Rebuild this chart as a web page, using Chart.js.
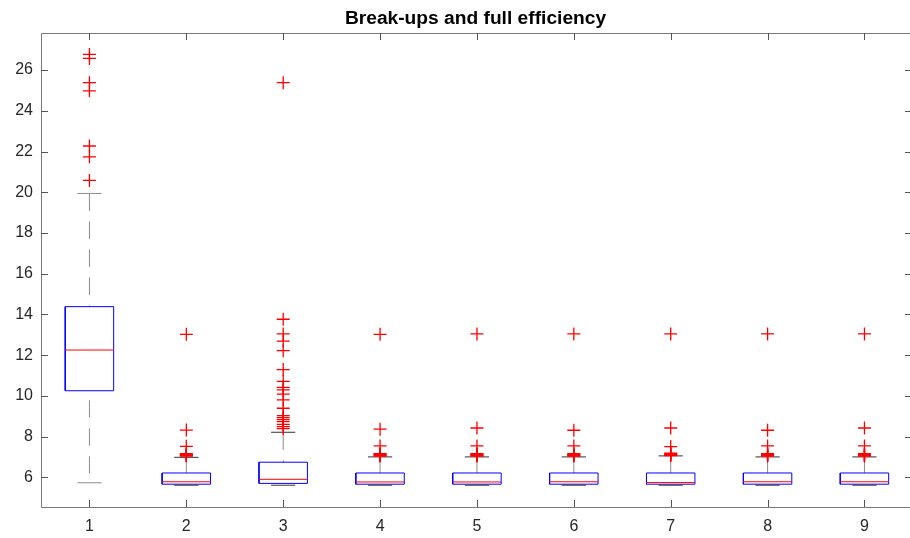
<!DOCTYPE html>
<html>
<head>
<meta charset="utf-8">
<title>Break-ups and full efficiency</title>
<script src="https://cdn.jsdelivr.net/npm/chart.js@4.4.0/dist/chart.umd.min.js"></script>
<style>
    html, body { margin: 0; padding: 0; background: #fff; }
    #wrap { width: 910px; height: 538px; }
</style>
</head>
<body>
<div id="wrap"><canvas id="boxChart"></canvas></div>
<script>
// Groups along the x axis
const categories = ['1', '2', '3', '4', '5', '6', '7', '8', '9'];

// Box statistics (one value per group)
const lowerWhisker  = [5.73, 5.61, 5.61, 5.61, 5.61, 5.61, 5.61, 5.61, 5.61];
const lowerQuartile = [10.25, 5.66, 5.70, 5.66, 5.66, 5.66, 5.66, 5.66, 5.66];
const medians       = [12.25, 5.78, 5.90, 5.77, 5.77, 5.78, 5.74, 5.78, 5.78];
const upperQuartile = [14.38, 6.21, 6.74, 6.21, 6.21, 6.21, 6.21, 6.21, 6.21];
const upperWhisker  = [19.94, 6.98, 8.21, 7.00, 7.00, 7.00, 7.05, 7.00, 7.00];

// Outliers per group
const outliers1 = [20.58, 21.74, 22.27, 24.98, 25.38, 26.57, 26.77];
const outliers2 = [7.04, 7.07, 7.10, 7.13, 7.16, 7.52, 8.32, 13.02];
const outliers3 = [8.39, 8.49, 8.60, 8.73, 8.83, 8.93, 9.03, 9.39, 9.80, 10.08, 10.29,
                   10.42, 10.71, 11.29, 12.22, 12.69, 13.04, 13.76, 25.38];
const outliers4 = [7.04, 7.07, 7.10, 7.13, 7.16, 7.54, 8.36, 13.02];
const outliers5 = [7.04, 7.07, 7.10, 7.13, 7.16, 7.54, 8.42, 13.04];
const outliers6 = [7.04, 7.07, 7.10, 7.13, 7.16, 7.54, 8.31, 13.04];
const outliers7 = [7.06, 7.09, 7.12, 7.15, 7.18, 7.51, 8.42, 13.04];
const outliers8 = [7.04, 7.07, 7.10, 7.13, 7.16, 7.54, 8.31, 13.04];
const outliers9 = [7.04, 7.07, 7.10, 7.13, 7.16, 7.54, 8.42, 13.04];
const outliers = [outliers1, outliers2, outliers3, outliers4, outliers5,
                  outliers6, outliers7, outliers8, outliers9];

// Axis ticks
const yTicks = [6, 8, 10, 12, 14, 16, 18, 20, 22, 24, 26];
const yMin = 4.54, yMax = 27.82;

const BOX_HALF = 0.25;
const CAP_HALF = 0.125;

// Build the line pieces for every box, null points break the line
const boxPts = [], medianPts = [], upperWhiskerPts = [], lowerWhiskerPts = [], capPts = [], outlierPts = [];
categories.forEach((c, i) => {
    const x = i + 1;
    boxPts.push(
        { x: x - BOX_HALF, y: lowerQuartile[i] },
        { x: x + BOX_HALF, y: lowerQuartile[i] },
        { x: x + BOX_HALF, y: upperQuartile[i] },
        { x: x - BOX_HALF, y: upperQuartile[i] },
        { x: x - BOX_HALF, y: lowerQuartile[i] },
        { x: x, y: null }
    );
    medianPts.push({ x: x - BOX_HALF, y: medians[i] }, { x: x + BOX_HALF, y: medians[i] }, { x: x, y: null });
    upperWhiskerPts.push({ x: x, y: upperWhisker[i] }, { x: x, y: upperQuartile[i] }, { x: x, y: null });
    lowerWhiskerPts.push({ x: x, y: lowerWhisker[i] }, { x: x, y: lowerQuartile[i] }, { x: x, y: null });
    capPts.push(
        { x: x - CAP_HALF, y: upperWhisker[i] }, { x: x + CAP_HALF, y: upperWhisker[i] }, { x: x, y: null },
        { x: x - CAP_HALF, y: lowerWhisker[i] }, { x: x + CAP_HALF, y: lowerWhisker[i] }, { x: x, y: null }
    );
    outliers[i].forEach(v => outlierPts.push({ x: x, y: v }));
});

// Frame with inward ticks, the way MATLAB draws its axes
const matlabAxes = {
    id: 'matlabAxes',
    afterDraw(chart) {
        const { ctx, chartArea: a, scales } = chart;
        const len = 7;
        ctx.save();
        ctx.lineWidth = 1;
        ctx.strokeStyle = '#7a7a7a';
        ctx.beginPath();
        ctx.moveTo(a.right, a.top + 0.5);
        ctx.lineTo(a.left + 0.5, a.top + 0.5);
        ctx.lineTo(a.left + 0.5, a.bottom + 0.5);
        ctx.lineTo(a.right, a.bottom + 0.5);
        ctx.stroke();

        ctx.strokeStyle = '#555';
        ctx.beginPath();
        scales.y.ticks.forEach(t => {
            const py = Math.round(scales.y.getPixelForValue(t.value)) + 0.5;
            ctx.moveTo(a.left, py); ctx.lineTo(a.left + len, py);
            ctx.moveTo(a.right - len + 2, py); ctx.lineTo(a.right, py);
        });
        scales.x.ticks.forEach(t => {
            const px = Math.round(scales.x.getPixelForValue(t.value)) + 0.5;
            ctx.moveTo(px, a.bottom); ctx.lineTo(px, a.bottom - len);
            ctx.moveTo(px, a.top); ctx.lineTo(px, a.top + len);
        });
        ctx.stroke();
        ctx.restore();
    }
};

Chart.defaults.font.family = "'Liberation Sans', Arial, Helvetica, sans-serif";
Chart.defaults.color = '#262626';

new Chart(document.getElementById('boxChart'), {
    type: 'line',
    data: {
        datasets: [
            {
                type: 'scatter',
                label: 'Outliers',
                data: outlierPts,
                pointStyle: 'cross',
                pointRadius: 6.5,
                pointBorderWidth: 1.3,
                pointBorderColor: '#ff0000',
                pointBackgroundColor: '#ff0000'
            },
            {
                label: 'Caps',
                data: capPts,
                borderWidth: 1,
                borderColor: '#333',
                segment: {
                    borderColor: ctx => ctx.p0DataIndex < 6 ? '#8c8c8c' : '#333'
                },
                pointRadius: 0
            },
            {
                label: 'Median',
                data: medianPts,
                borderWidth: 1,
                borderColor: '#ff0000',
                pointRadius: 0
            },
            {
                label: 'Box',
                data: boxPts,
                borderWidth: 1,
                borderColor: '#0000ff',
                pointRadius: 0
            },
            {
                label: 'Upper whisker',
                data: upperWhiskerPts,
                borderWidth: 1,
                borderColor: '#8c8c8c',
                borderDash: [17.5, 10.5],
                pointRadius: 0
            },
            {
                label: 'Lower whisker',
                data: lowerWhiskerPts,
                borderWidth: 1,
                borderColor: '#8c8c8c',
                borderDash: [17.5, 10.5],
                borderDashOffset: 19,
                pointRadius: 0
            }
        ]
    },
    options: {
        responsive: true,
        maintainAspectRatio: false,
        animation: false,
        spanGaps: false,
        layout: { padding: 0, autoPadding: false },
        plugins: {
            legend: { display: false },
            tooltip: { enabled: false },
            title: {
                display: true,
                fullSize: false,
                text: 'Break-ups and full efficiency',
                color: '#000',
                font: { size: 19.2, weight: 'bold' },
                padding: { top: 7, bottom: 2.96 }
            }
        },
        scales: {
            x: {
                type: 'linear',
                min: 0.5,
                max: 9.47,
                grid: { display: false, drawTicks: false },
                border: { display: false },
                afterBuildTicks: scale => {
                    scale.ticks = categories.map((c, i) => ({ value: i + 1 }));
                },
                afterFit: scale => { scale.height = 31; },
                ticks: {
                    padding: 10,
                    maxRotation: 0,
                    font: { size: 16 },
                    callback: v => categories[v - 1]
                }
            },
            y: {
                type: 'linear',
                min: yMin,
                max: yMax,
                grid: { display: false, drawTicks: false },
                border: { display: false },
                afterBuildTicks: scale => {
                    scale.ticks = yTicks.map(v => ({ value: v }));
                },
                afterFit: scale => { scale.width = 41; },
                ticks: {
                    padding: 8,
                    font: { size: 16 }
                }
            }
        }
    },
    plugins: [matlabAxes]
});
</script>
</body>
</html>
